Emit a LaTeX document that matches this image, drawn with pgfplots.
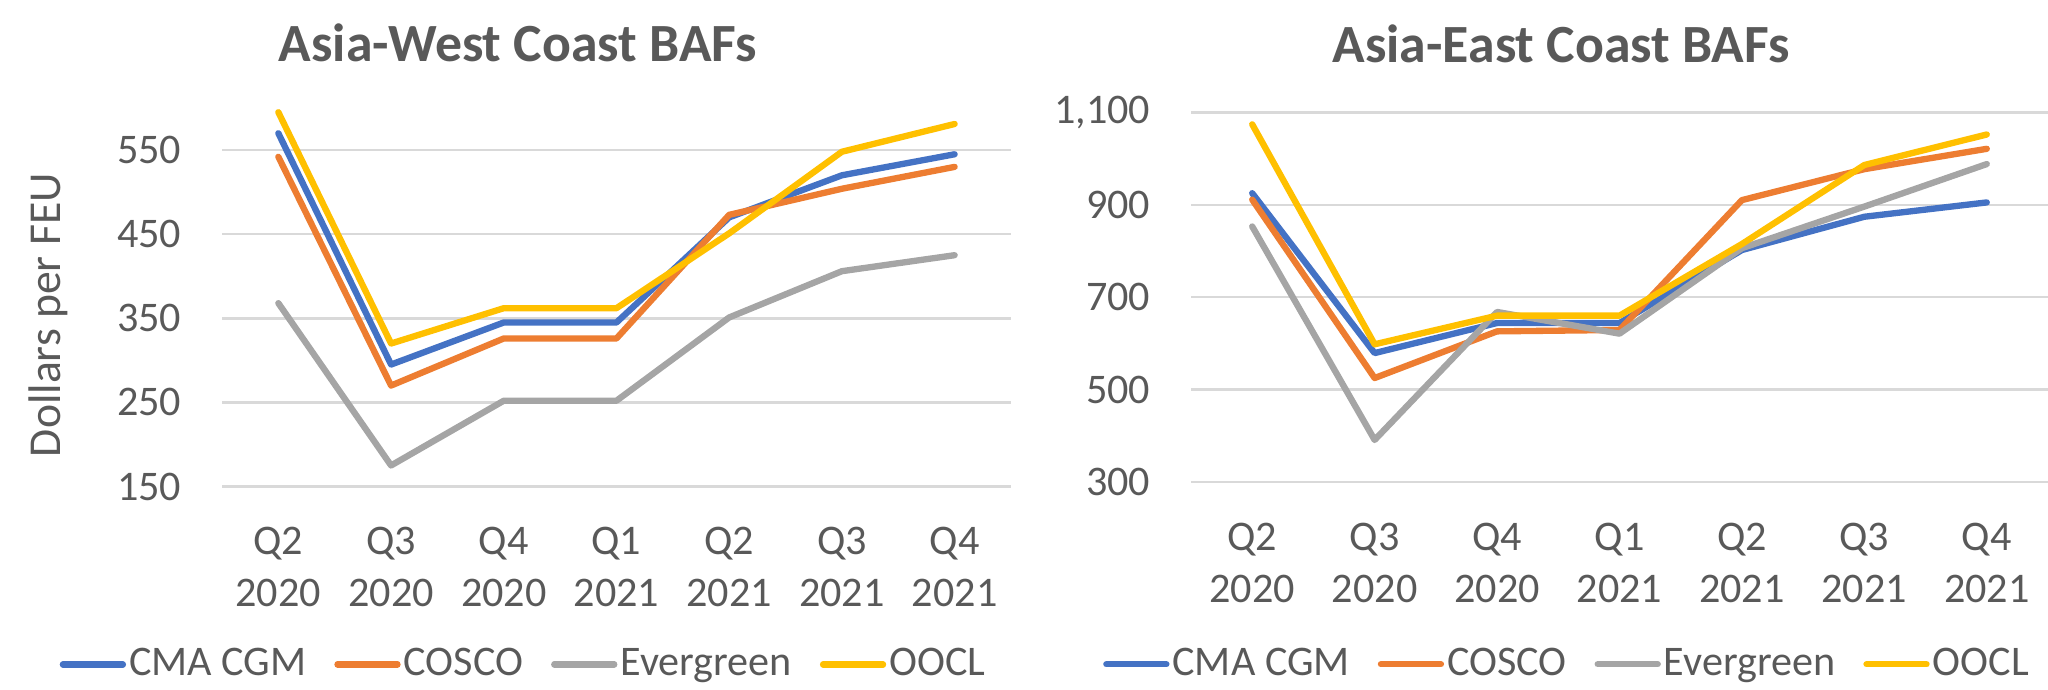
\documentclass[border=0pt]{standalone}
\usepackage{fontspec}
\setmainfont{Carlito}
\usepackage{pgfplots}
\pgfplotsset{compat=1.18}
\definecolor{cblue}{HTML}{4472C4}
\definecolor{corange}{HTML}{ED7D31}
\definecolor{cgray}{HTML}{A5A5A5}
\definecolor{cgold}{HTML}{FFC000}
\definecolor{gridc}{HTML}{D9D9D9}
\definecolor{txt}{HTML}{595959}
\pgfplotsset{
  baf/.style={
    scale only axis,
    xmin=-0.5, xmax=6.5,
    axis line style={draw=none},
    tick style={draw=none},
    major tick length=0pt,
    ymajorgrids,
    grid style={color=gridc, line width=0.7pt},
    xtick={0,1,2,3,4,5,6},
    xticklabels={{Q2\\2020},{Q3\\2020},{Q4\\2020},{Q1\\2021},{Q2\\2021},{Q3\\2021},{Q4\\2021}},
    xticklabel style={align=center, anchor=north, inner sep=0pt, yshift=-4.0mm,
      font=\fontsize{12}{14.9}\selectfont, text=txt},
    yticklabel style={anchor=east, inner sep=0pt, xshift=-4.0mm,
      font=\fontsize{12}{14.4}\selectfont, text=txt},
    /pgf/number format/assume math mode=true,
    /pgf/number format/.cd, 1000 sep={,}, /pgfplots/.cd,
    clip=false,
    every axis title shift=0pt,
    title style={font=\bfseries\fontsize{15.3}{18}\selectfont, text=txt, inner sep=0pt},
    legend columns=4,
    legend style={draw=none, fill=none, inner sep=0pt, anchor=center,
      font=\fontsize{12}{14.4}\selectfont, text=txt,
      nodes={inner sep=0.3mm},
      /tikz/every even column/.append style={column sep=2.5mm}},
    legend image code/.code={\draw[#1] (0mm,0mm) -- (6.0mm,0mm);},
    every axis plot/.append style={line width=1.8pt, line cap=round, line join=round},
  }
}
\begin{document}
\begin{tikzpicture}
\path[use as bounding box] (0,0) rectangle (204.8mm,68.9mm);
\begin{axis}[baf,
  at={(22.2mm,20.25mm)}, anchor=south west,
  width=78.9mm, height=37.85mm,
  ymin=150, ymax=600, ytick={150,250,350,450,550},
  title={Asia-West Coast BAFs},
  title style={at={(axis description cs:0.375,1.1717)}, anchor=center},
  ylabel={Dollars per FEU},
  ylabel style={at={(axis description cs:-0.2205,0.453)}, anchor=center,
    font=\fontsize{13}{15}\selectfont, text=txt},
  legend style={at={(axis description cs:0.3828,-0.47)}},
]
\addplot[cblue] coordinates {(0,570) (1,295) (2,345) (3,345) (4,470) (5,520) (6,545)};
\addplot[corange] coordinates {(0,542) (1,270) (2,326) (3,326) (4,473) (5,504) (6,530)};
\addplot[cgray] coordinates {(0,368) (1,175) (2,252) (3,252) (4,351) (5,406) (6,425)};
\addplot[cgold] coordinates {(0,595) (1,320) (2,362) (3,362) (4,451) (5,548) (6,581)};
\legend{CMA CGM, COSCO, Evergreen, OOCL}
\end{axis}
\begin{axis}[baf,
  at={(119.1mm,20.7mm)}, anchor=south west,
  width=85.7mm, height=36.97mm,
  ymin=300, ymax=1100, ytick={300,500,700,900,1100},
  title={Asia-East Coast BAFs},
  title style={at={(axis description cs:0.432,1.185)}, anchor=center},
  legend style={at={(axis description cs:0.4393,-0.493)}},
]
\addplot[cblue] coordinates {(0,925) (1,579) (2,644) (3,644) (4,802) (5,874) (6,905)};
\addplot[corange] coordinates {(0,911) (1,525) (2,626) (3,629) (4,910) (5,977) (6,1021)};
\addplot[cgray] coordinates {(0,853) (1,391) (2,668) (3,621) (4,806) (5,896) (6,988)};
\addplot[cgold] coordinates {(0,1074) (1,598) (2,660) (3,660) (4,815) (5,986) (6,1052)};
\legend{CMA CGM, COSCO, Evergreen, OOCL}
\end{axis}
\end{tikzpicture}
\end{document}
